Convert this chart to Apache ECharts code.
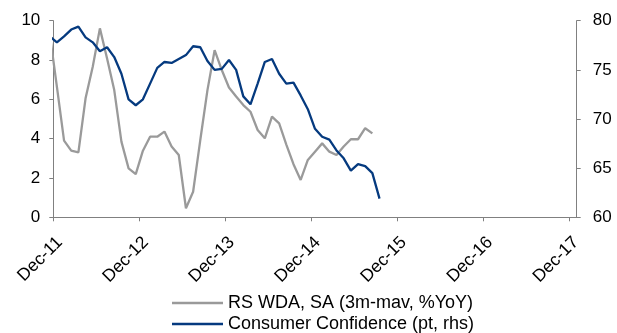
<!DOCTYPE html>
<html>
<head>
<meta charset="utf-8">
<script src="https://cdn.jsdelivr.net/npm/echarts@6/dist/echarts.min.js"></script>
<style>
  html, body { margin: 0; padding: 0; background: #ffffff; }
  #chart { width: 617px; height: 333px; }
</style>
</head>
<body>
<div id="chart"></div>
<script>
// Monthly observations (first month sits just left of the axis start and is clipped)
const months = [
  'Nov-11', 'Dec-11',
  'Jan-12', 'Feb-12', 'Mar-12', 'Apr-12', 'May-12', 'Jun-12', 'Jul-12', 'Aug-12', 'Sep-12', 'Oct-12', 'Nov-12', 'Dec-12',
  'Jan-13', 'Feb-13', 'Mar-13', 'Apr-13', 'May-13', 'Jun-13', 'Jul-13', 'Aug-13', 'Sep-13', 'Oct-13', 'Nov-13', 'Dec-13',
  'Jan-14', 'Feb-14', 'Mar-14', 'Apr-14', 'May-14', 'Jun-14', 'Jul-14', 'Aug-14', 'Sep-14', 'Oct-14', 'Nov-14', 'Dec-14',
  'Jan-15', 'Feb-15', 'Mar-15', 'Apr-15', 'May-15', 'Jun-15', 'Jul-15', 'Aug-15', 'Sep-15'
];

// RS WDA, SA (3m-mav, %YoY) - left axis
const retailSales = [
  9.35, 6.65, 3.90, 3.39, 3.30, 6.05, 7.66, 9.61, 8.08, 6.47, 3.85, 2.49, 2.20,
  3.39, 4.10, 4.10, 4.36, 3.60, 3.17, 0.46, 1.30, 3.93, 6.47, 8.50, 7.49,
  6.60, 6.14, 5.71, 5.37, 4.44, 4.02, 5.12, 4.78, 3.70, 2.70, 1.90, 2.92,
  3.34, 3.76, 3.34, 3.17, 3.60, 3.97, 3.97, 4.53, 4.27
];

// Consumer Confidence (pt) - right axis
const confidence = [
  78.4, 77.8, 78.4, 79.1, 79.4, 78.3, 77.8, 76.9, 77.3, 76.3, 74.6, 72.0, 71.4,
  72.0, 73.6, 75.2, 75.8, 75.7, 76.1, 76.5, 77.4, 77.3, 75.9, 75.0, 75.1,
  76.0, 75.0, 72.3, 71.5, 73.6, 75.8, 76.1, 74.6, 73.6, 73.7, 72.4, 71.0,
  69.0, 68.2, 67.9, 66.8, 66.0, 64.75, 65.4, 65.2, 64.5, 61.9
];

// Year-end tick labels along the date axis
const tickLabels = ['Dec-11', 'Dec-12', 'Dec-13', 'Dec-14', 'Dec-15', 'Dec-16', 'Dec-17'];

const seriesNames = ['RS WDA, SA (3m-mav, %YoY)', 'Consumer Confidence (pt, rhs)'];

// x position in months after Dec-11, each observation plotted mid-month
const toPoints = (vals) => vals.map((v, k) => [k - 0.5, v]);
const tickPositions = tickLabels.map((_, i) => i * 12);

const FONT = '"Liberation Sans", Arial, sans-serif';
const AXIS_COLOR = '#808080';

const chart = echarts.init(document.getElementById('chart'), null, { renderer: 'canvas' });

chart.setOption({
  animation: false,
  backgroundColor: '#ffffff',
  grid: { left: 53.3, right: 40.3, top: 20.7, bottom: 115.7, containLabel: false },
  legend: {
    orient: 'vertical',
    left: 172,
    top: 294,
    height: 60,
    padding: 0,
    itemWidth: 51,
    itemHeight: 2.5,
    itemGap: 3,
    icon: 'rect',
    textStyle: { fontFamily: FONT, fontSize: 18, color: '#000000' },
    data: seriesNames
  },
  xAxis: {
    type: 'value',
    min: 0,
    max: 73,
    interval: 12,
    splitLine: { show: false },
    axisLine: { show: true, lineStyle: { color: AXIS_COLOR, width: 1 } },
    axisTick: { show: true, length: 4, customValues: tickPositions, lineStyle: { color: AXIS_COLOR } },
    axisLabel: {
      customValues: tickPositions,
      rotate: 45,
      margin: 16,
      verticalAlign: 'top',
      fontFamily: FONT,
      fontSize: 17.5,
      color: '#000000',
      formatter: (v) => (v % 12 === 0 && v / 12 < tickLabels.length) ? tickLabels[v / 12] : ''
    }
  },
  yAxis: [
    {
      type: 'value',
      min: 0,
      max: 10,
      interval: 2,
      position: 'left',
      splitLine: { show: false },
      axisLine: { show: true, lineStyle: { color: AXIS_COLOR, width: 1 } },
      axisTick: { show: true, length: 4, lineStyle: { color: AXIS_COLOR } },
      axisLabel: { margin: 13, fontFamily: FONT, fontSize: 17, color: '#000000' }
    },
    {
      type: 'value',
      min: 60,
      max: 80,
      interval: 5,
      position: 'right',
      splitLine: { show: false },
      axisLine: { show: true, lineStyle: { color: AXIS_COLOR, width: 1 } },
      axisTick: { show: true, length: 4, lineStyle: { color: AXIS_COLOR } },
      axisLabel: { margin: 16, fontFamily: FONT, fontSize: 17, color: '#000000' }
    }
  ],
  series: [
    {
      name: seriesNames[0],
      type: 'line',
      yAxisIndex: 0,
      data: toPoints(retailSales),
      symbol: 'none',
      clip: true,
      lineStyle: { color: '#9a9a9a', width: 2.3 },
      itemStyle: { color: '#9a9a9a' }
    },
    {
      name: seriesNames[1],
      type: 'line',
      yAxisIndex: 1,
      data: toPoints(confidence),
      symbol: 'none',
      clip: true,
      lineStyle: { color: '#053a7f', width: 2.3 },
      itemStyle: { color: '#053a7f' }
    }
  ]
});
</script>
</body>
</html>
